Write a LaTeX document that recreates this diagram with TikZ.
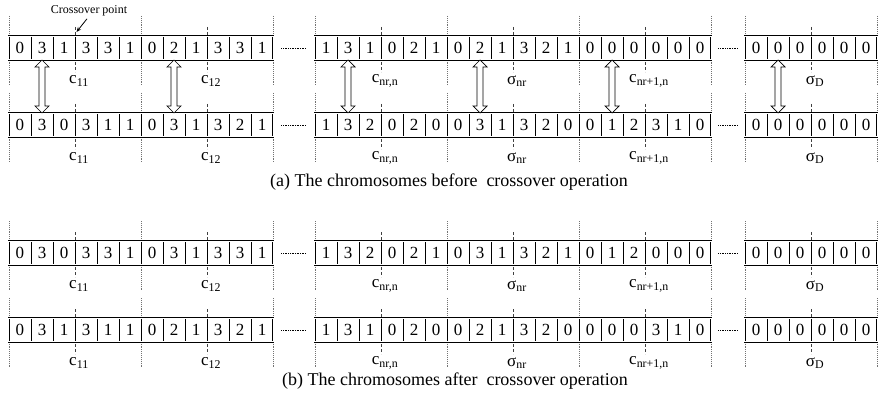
\documentclass[tikz,border=0pt]{standalone}
\usepackage{fontspec}
\setmainfont{Liberation Serif}
\usetikzlibrary{shapes.arrows,arrows.meta,calc}

\tikzset{
  cell/.style={draw, line width=0.7pt, minimum width=22pt, minimum height=23pt,
    inner sep=0pt, font=\fontsize{17}{17}\selectfont},
  frame/.style={draw, double, line width=0.6pt, double distance=1pt},
  bound/.style={densely dotted, line width=0.9pt, black!55},
  midline/.style={densely dashed, line width=0.6pt, black!75},
  glab/.style={font=\fontsize{17}{17}\selectfont},
  dots/.style={densely dotted, line width=0.7pt},
  xover/.style={double arrow, draw, line width=0.7pt, rotate=90, fill=white,
    minimum height=53pt, inner sep=2.6pt, double arrow head extend=4pt},
  capt/.style={font=\fontsize{18}{18}\selectfont}
}

% one block of genes: name, x, y, cells, digits
\newcommand{\genes}[5]{%
  \foreach \d [count=\k from 0] in {#5}
    \node[cell] (#1-\k) at ({#2+22*\k+11},#3) {\d};
  \pgfmathtruncatemacro{\last}{#4-1}
  \draw[frame] (#1-0.north west) rectangle (#1-\last.south east);
}
% gene segments of six cells: name, x, y, segments, labels
\newcommand{\groups}[5]{%
  \foreach \g in {0,...,#4}
    \draw[bound] ({#2+132*\g},#3-32) -- ({#2+132*\g},#3+38);
  \foreach \glabel [count=\g from 0] in {#5} {
    \draw[midline] ({#2+66+132*\g},#3-21) -- ({#2+66+132*\g},#3+24);
    \node[glab] (#1-l\g) at ({#2+70+132*\g},#3+33) {\glabel};
  }
}
% one chromosome: name, y, digits of the three blocks
\newcommand{\chrom}[5]{%
  \groups{#1a}{9}{#2}{2}{c\textsubscript{11},c\textsubscript{12}}
  \groups{#1b}{315}{#2}{3}{{c\textsubscript{nr,n}},σ\textsubscript{nr},{c\textsubscript{nr+1,n}}}
  \groups{#1c}{745}{#2}{1}{σ\textsubscript{D}}
  \genes{#1a}{9}{#2}{12}{#3}
  \genes{#1b}{315}{#2}{18}{#4}
  \genes{#1c}{745}{#2}{6}{#5}
  \draw[dots] ([xshift=8pt]#1a-11.east) -- ([xshift=-8pt]#1b-0.west);
  \draw[dots] ([xshift=7pt]#1b-17.east) -- ([xshift=-7pt]#1c-0.west);
}

\begin{document}
\begin{tikzpicture}[x=1pt,y=-1pt]
  \useasboundingbox (0,0) rectangle (878,401);

  % (a) before crossover
  \chrom{r1}{48}{0,3,1,3,3,1,0,2,1,3,3,1}{1,3,1,0,2,1,0,2,1,3,2,1,0,0,0,0,0,0}{0,0,0,0,0,0}
  \chrom{r2}{125}{0,3,0,3,1,1,0,3,1,3,2,1}{1,3,2,0,2,0,0,3,1,3,2,0,0,1,2,3,1,0}{0,0,0,0,0,0}
  \foreach \c in {a-1,a-7,b-1,b-7,b-13,c-1}
    \node[xover] (x\c) at ($(r1\c.south)!0.5!(r2\c.north)$) {};

  \node[font=\fontsize{12}{12}\selectfont] (xpt) at (89,11) {Crossover point};
  \coordinate (xtip) at (76.5,32);
  \draw[-{Stealth[length=5pt,width=4pt]}, line width=0.8pt] ([xshift=-2pt,yshift=1pt]xpt.south) -- (xtip);

  \node[capt] (capa) at (449,182) {(a) The chromosomes before\ \ crossover operation};

  % (b) after crossover
  \chrom{r3}{253}{0,3,0,3,3,1,0,3,1,3,3,1}{1,3,2,0,2,1,0,3,1,3,2,1,0,1,2,0,0,0}{0,0,0,0,0,0}
  \chrom{r4}{330}{0,3,1,3,1,1,0,2,1,3,2,1}{1,3,1,0,2,0,0,2,1,3,2,0,0,0,0,3,1,0}{0,0,0,0,0,0}

  \node[capt] (capb) at (455,381) {(b) The chromosomes after\ \ crossover operation};
\end{tikzpicture}
\end{document}
